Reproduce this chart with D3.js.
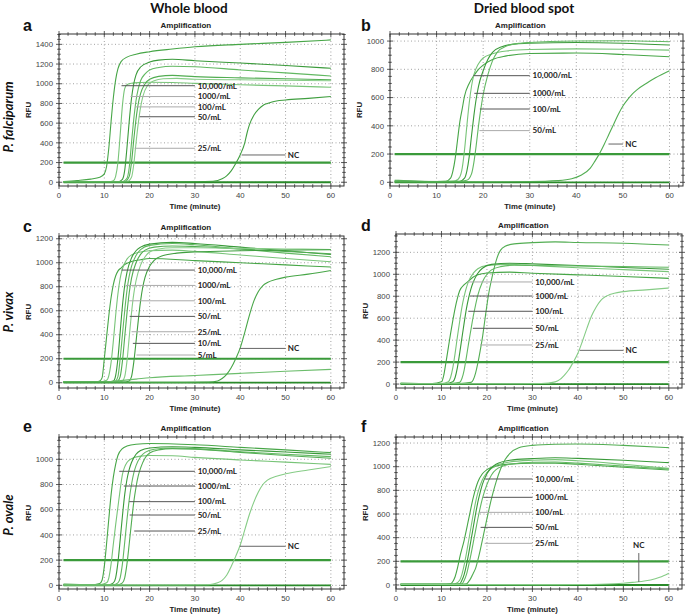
<!DOCTYPE html>
<html>
<head>
<meta charset="utf-8">
<script src="https://cdn.jsdelivr.net/npm/d3@7"></script>
<style>
  body { margin: 0; background: #fff; }
  svg { display: block; }
  .tick-label { font-family: "Liberation Sans", Arial, sans-serif; font-size: 7.8px; fill: #444; }
  .axis-title { font-family: "Liberation Sans", Arial, sans-serif; font-size: 7.8px; font-weight: bold; fill: #222; }
  .plot-title { font-family: "Liberation Sans", Arial, sans-serif; font-size: 8px; font-weight: bold; fill: #222; }
  .conc { font-family: Lato, "Open Sans", sans-serif; font-size: 8px; font-weight: bold; fill: #222; }
  .col-title { font-family: Lato, "Open Sans", sans-serif; font-size: 13.5px; font-weight: bold; fill: #111; }
  .row-title { font-family: Lato, "Open Sans", sans-serif; font-size: 13px; font-weight: bold; font-style: italic; fill: #111; }
  .letter { font-family: "Liberation Sans", Arial, sans-serif; font-size: 16px; font-weight: bold; fill: #111; }
</style>
</head>
<body>
<svg width="685" height="615"></svg>
<script>
// ---------------- data (RFU over time in minutes) ----------------
const xTicks = [0, 10, 20, 30, 40, 50, 60];
const threshold = 200;

// a: whole blood, P. falciparum
const curvesA = [
  [[1,8],[4,18],[7,32],[9,50],[10,85],[10.5,160],[11,350],[11.5,620],[12,860],[12.5,1040],[13,1150],[13.7,1225],[15,1270],[17,1300],[20,1325],[25,1352],[30,1375],[40,1400],[50,1420],[60,1445]],
  [[1,5],[11,5],[12,15],[12.5,60],[13,200],[13.5,480],[14,780],[14.5,950],[15,990],[16,1005],[18,1012],[20,1015],[25,1012],[30,1004],[40,990],[50,978],[60,964]],
  [[1,5],[13,5],[14,30],[14.5,120],[15,350],[15.5,620],[16,850],[16.5,1000],[17,1090],[18,1170],[20,1220],[22,1240],[25,1248],[30,1234],[40,1210],[50,1185],[60,1157]],
  [[1,5],[14,5],[15,40],[15.5,150],[16,400],[16.5,640],[17,830],[17.5,950],[18,1030],[19,1100],[20,1140],[22,1165],[25,1178],[30,1173],[40,1140],[50,1110],[60,1079]],
  [[1,5],[14.5,5],[15.5,60],[16,200],[16.5,430],[17,640],[17.5,800],[18,900],[19,1000],[20,1045],[22,1075],[25,1085],[30,1072],[40,1060],[50,1050],[60,1040]],
  [[1,5],[15,5],[16,50],[16.5,180],[17,400],[17.5,600],[18,760],[18.5,870],[19.5,980],[21,1030],[23,1050],[26,1055],[30,1045],[40,1040],[50,1035],[60,1031]]
];
const ncA = [[1,3],[20,3],[30,5],[34,10],[36,35],[37,65],[38,115],[39,190],[40,280],[41,400],[41.5,500],[42,580],[43,680],[44,740],[45,780],[46,800],[47,815],[48,825],[50,835],[55,852],[60,870]];
const labelsA = [
  {text: "10,000/mL", t: 13.8, v: 980, dark: true},
  {text: "1000/mL", t: 15.8, v: 870, dark: false},
  {text: "100/mL", t: 16.8, v: 765, dark: false},
  {text: "50/mL", t: 17.8, v: 665, dark: true},
  {text: "25/mL", t: 16.7, v: 345, dark: false}
];
const ncLabelA = {t: 40.3, v: 277};

// b: dried blood spot, P. falciparum
const curvesB = [
  [[1,15],[4,10],[8,5],[12,8],[13,30],[13.5,80],[14,170],[14.5,300],[15,430],[15.5,520],[16,610],[17,700],[18,755],[19,800],[20,830],[22,870],[25,895],[30,912],[40,915],[50,905],[60,889]],
  [[1,10],[10,5],[14,10],[15,40],[15.5,100],[16,230],[16.5,400],[17,560],[17.5,680],[18,760],[19,840],[20,880],[22,910],[25,930],[30,940],[40,945],[50,942],[60,936]],
  [[1,8],[12,5],[15,8],[16,30],[16.5,80],[17,180],[17.5,330],[18,470],[18.5,590],[19,680],[20,790],[21,870],[22,920],[24,960],[27,980],[30,985],[40,990],[50,985],[60,972]],
  [[1,5],[14,5],[16.5,15],[17.5,60],[18,140],[18.5,260],[19,400],[19.5,520],[20,620],[21,760],[22,860],[23,920],[25,965],[28,985],[30,990],[40,1000],[50,1002],[60,995]]
];
const ncB = [[1,5],[20,3],[30,5],[36,12],[39,25],[41,50],[43,100],[44,150],[45,205],[46,270],[47,340],[48,410],[49,480],[50,540],[51,585],[52,625],[53,655],[55,700],[57,740],[60,790]];
const labelsB = [
  {text: "10,000/mL", t: 17.9, v: 755, dark: true},
  {text: "1000/mL", t: 18.1, v: 630, dark: true},
  {text: "100/mL", t: 19.3, v: 519, dark: true},
  {text: "50/mL", t: 19.2, v: 366, dark: false}
];
const ncLabelB = {t: 46.9, v: 271};

// c: whole blood, P. vivax
const curvesC = [
  [[1,10],[8,5],[9,15],[9.5,40],[10,200],[10.5,380],[11,560],[11.5,710],[12,820],[12.5,890],[13,930],[13.8,960],[14.5,985],[16,1010],[18,1025],[20,1035],[30,1018],[40,1000],[50,982],[60,964]],
  [[1,5],[9,5],[10.5,20],[11,60],[11.5,170],[12,350],[12.5,560],[13,740],[13.5,870],[14,950],[15,1030],[16,1065],[18,1090],[20,1100],[25,1105],[30,1095],[40,1065],[50,1035],[60,1008]],
  [[1,5],[10,5],[12,15],[12.5,60],[13,200],[13.5,420],[14,640],[14.5,810],[15,920],[16,1040],[17,1100],[18,1130],[20,1155],[25,1170],[30,1160],[40,1130],[50,1100],[60,1069]],
  [[1,5],[11,5],[12.5,15],[13,50],[13.5,200],[14,400],[14.5,600],[15,770],[15.5,890],[16,970],[17,1060],[18,1110],[20,1145],[25,1160],[30,1150],[40,1115],[50,1080],[60,1050]],
  [[1,5],[12,5],[13,15],[13.5,50],[14,180],[14.5,380],[15,580],[15.5,750],[16,870],[17,1000],[18,1070],[19,1105],[21,1130],[25,1140],[30,1135],[40,1115],[50,1095],[60,1075]],
  [[1,5],[13,5],[14,15],[14.5,50],[15,180],[15.5,380],[16,580],[16.5,740],[17,850],[18,980],[19,1050],[20,1090],[22,1115],[25,1125],[30,1125],[40,1120],[50,1115],[60,1111]],
  [[1,5],[14,5],[15.5,15],[16,50],[16.5,170],[17,340],[17.5,520],[18,680],[18.5,800],[19,880],[20,970],[21,1020],[23,1060],[26,1080],[30,1090],[40,1100],[50,1105],[60,1108]],
  [[1,5],[10,5],[13,15],[17,30],[20,42],[30,60],[40,78],[50,95],[60,111]]
];
const ncC = [[1,3],[25,3],[33,5],[35,15],[36,35],[37,70],[38,125],[39,200],[40,290],[41,420],[42,560],[43,680],[44,760],[45,810],[46,835],[48,862],[50,880],[55,905],[60,935]];
const labelsC = [
  {text: "10,000/mL", t: 13.8, v: 939, dark: true},
  {text: "1000/mL", t: 14.7, v: 811, dark: false},
  {text: "100/mL", t: 15.5, v: 683, dark: false},
  {text: "50/mL", t: 15.6, v: 553, dark: true},
  {text: "25/mL", t: 16, v: 425, dark: false},
  {text: "10/mL", t: 16.3, v: 328, dark: true},
  {text: "5/mL", t: 17.1, v: 231, dark: false}
];
const ncLabelC = {t: 39.9, v: 286};

// d: dried blood spot, P. vivax
const curvesD = [
  [[1,10],[8,5],[10,20],[10.5,80],[11,200],[11.5,330],[12,460],[12.5,580],[13,690],[13.5,780],[14,850],[15,905],[16,940],[17,975],[18,995],[20,1012],[25,1020],[30,1010],[40,995],[50,980],[60,963]],
  [[1,5],[10,5],[11.5,20],[12,60],[12.5,150],[13,280],[13.5,430],[14,570],[14.5,700],[15,800],[15.5,880],[16,940],[17,1010],[18,1050],[20,1080],[25,1090],[30,1080],[40,1060],[50,1042],[60,1024]],
  [[1,5],[11,5],[12.5,20],[13,60],[13.5,150],[14,280],[14.5,420],[15,560],[15.5,690],[16,790],[16.5,870],[17,930],[18,1010],[19,1055],[21,1090],[25,1100],[30,1095],[40,1080],[50,1062],[60,1046]],
  [[1,5],[12,5],[14,15],[14.5,50],[15,130],[15.5,250],[16,380],[16.5,500],[17,620],[17.5,720],[18,810],[19,930],[20,1000],[21,1040],[23,1070],[26,1082],[30,1080],[40,1075],[50,1070],[60,1064]],
  [[1,5],[14,5],[16.5,15],[17,40],[17.5,100],[18,190],[18.5,300],[19,420],[19.5,570],[20,720],[20.5,850],[21,950],[22,1120],[22.5,1180],[23,1220],[24,1255],[26,1277],[30,1288],[35,1295],[40,1290],[50,1283],[60,1267]]
];
const ncD = [[1,3],[25,3],[32,5],[35,20],[36,40],[37,80],[38,130],[39,200],[40,280],[41,390],[42,510],[43,620],[44,700],[45,760],[46,795],[47,815],[48,828],[50,842],[55,858],[60,875]];
const labelsD = [
  {text: "10,000/mL", t: 15.8, v: 930, dark: false},
  {text: "1000/mL", t: 16.3, v: 802, dark: true},
  {text: "100/mL", t: 15.9, v: 663, dark: true},
  {text: "50/mL", t: 16.9, v: 508, dark: true},
  {text: "25/mL", t: 18.5, v: 356, dark: false}
];
const ncLabelD = {t: 40.4, v: 307};

// e: whole blood, P. ovale
const curvesE = [
  [[1,10],[7,5],[9,15],[9.5,40],[10,150],[10.5,330],[11,530],[11.5,720],[12,860],[12.5,960],[13,1030],[14,1085],[15,1105],[17,1120],[20,1125],[30,1115],[40,1095],[50,1075],[60,1053]],
  [[1,5],[9,5],[10.5,20],[11,60],[11.5,170],[12,330],[12.5,480],[13,620],[13.5,760],[14,880],[14.5,940],[15,975],[16,1005],[18,1025],[20,1030],[25,1028],[30,1015],[40,995],[50,978],[60,960]],
  [[1,5],[11,5],[12,20],[12.5,60],[13,180],[13.5,360],[14,550],[14.5,720],[15,840],[15.5,920],[16,975],[17,1040],[18,1070],[20,1090],[25,1100],[30,1095],[40,1075],[50,1058],[60,1040]],
  [[1,5],[12,5],[13,20],[13.5,60],[14,170],[14.5,340],[15,520],[15.5,680],[16,800],[16.5,890],[17,950],[18,1020],[19,1055],[21,1080],[25,1090],[30,1085],[40,1060],[50,1040],[60,1021]],
  [[1,5],[13,5],[14,20],[14.5,60],[15,170],[15.5,330],[16,500],[16.5,660],[17,780],[17.5,870],[18,930],[19,1010],[20,1050],[22,1075],[25,1085],[30,1080],[40,1055],[50,1030],[60,1008]]
];
const ncE = [[1,3],[25,3],[33,5],[35,20],[36,40],[37,80],[38,150],[39,230],[40,320],[41,440],[42,560],[43,660],[44,740],[45,800],[46,835],[48,865],[50,885],[55,915],[60,942]];
const labelsE = [
  {text: "10,000/mL", t: 13.3, v: 905, dark: true},
  {text: "1000/mL", t: 14.3, v: 788, dark: true},
  {text: "100/mL", t: 15.5, v: 664, dark: true},
  {text: "50/mL", t: 15.6, v: 558, dark: true},
  {text: "25/mL", t: 16.6, v: 431, dark: true}
];
const ncLabelE = {t: 39.9, v: 310};

// f: dried blood spot, P. ovale
const curvesF = [
  [[1,5],[10,5],[12,10],[12.5,30],[13,70],[13.5,140],[14,230],[15,380],[16,560],[17,740],[18,870],[19,940],[20,975],[22,1005],[25,1022],[30,1030],[35,1030],[40,1020],[50,995],[60,972]],
  [[1,5],[11,5],[13,10],[14,40],[14.5,90],[15,170],[15.5,270],[16,380],[16.5,490],[17,600],[17.5,700],[18,780],[19,890],[20,950],[22,1010],[25,1040],[30,1055],[35,1060],[40,1050],[50,1020],[60,986]],
  [[1,5],[12,5],[14,10],[14.5,40],[15,90],[15.5,170],[16,270],[16.5,380],[17,490],[17.5,600],[18,700],[18.5,780],[19,850],[20,940],[22,1020],[25,1055],[30,1068],[35,1075],[40,1070],[50,1055],[60,1034]],
  [[1,5],[12,5],[14.5,10],[15,40],[15.5,90],[16,170],[16.5,260],[17,360],[17.5,460],[18,560],[18.5,650],[19,730],[20,850],[21,930],[22,975],[25,1020],[30,1038],[35,1040],[40,1030],[50,1005],[60,980]],
  [[1,5],[13,5],[15.5,10],[16,30],[16.5,60],[17,100],[17.5,140],[18,210],[18.5,290],[19,380],[19.5,470],[20,560],[21,730],[22,870],[23,980],[24,1060],[25,1110],[27,1160],[30,1180],[35,1190],[40,1192],[50,1180],[60,1161]]
];
const ncF = [[1,5],[20,3],[30,3],[40,4],[45,6],[48,10],[50,15],[52,22],[54,30],[56,42],[58,65],[60,100]];
const labelsF = [
  {text: "10,000/mL", t: 19.6, v: 896, dark: true},
  {text: "1000/mL", t: 19.2, v: 741, dark: true},
  {text: "100/mL", t: 18.4, v: 614, dark: false},
  {text: "50/mL", t: 18.6, v: 487, dark: true},
  {text: "25/mL", t: 19.5, v: 352, dark: false}
];
const ncLabelF = {t: 53.4, v: 270, vertical: true};

// ---------------- layout ----------------
const svg = d3.select("svg");
const curveColors = ["#47a647", "#78c478", "#3a9a3a", "#62b862", "#52ad52", "#86cc86", "#409f40", "#6cbd6c"];
const xMax = 62.9;
const labelEnd = 30, labelTextT = 30.6, ncEnd = 50, ncTextT = 50.5;

const panels = [
  {id: "a", box: [59, 34, 344, 186], yDom: [-38, 1505], yTop: 1400, curves: curvesA, nc: ncA, labels: labelsA, ncLabel: ncLabelA, letter: [23, 31]},
  {id: "b", box: [390, 34, 683, 186], yDom: [-26, 1050], yTop: 1000, curves: curvesB, nc: ncB, labels: labelsB, ncLabel: ncLabelB, letter: [361, 31]},
  {id: "c", box: [59, 236, 344, 388], yDom: [-44, 1223], yTop: 1200, curves: curvesC, nc: ncC, labels: labelsC, ncLabel: ncLabelC, letter: [23, 232]},
  {id: "d", box: [396, 234, 682, 388], yDom: [-36, 1367], yTop: 1200, curves: curvesD, nc: ncD, labels: labelsD, ncLabel: ncLabelD, letter: [361, 231]},
  {id: "e", box: [59, 437, 344, 589], yDom: [-29, 1177], yTop: 1000, curves: curvesE, nc: ncE, labels: labelsE, ncLabel: ncLabelE, letter: [23, 432]},
  {id: "f", box: [396, 437, 682, 589], yDom: [-34, 1251], yTop: 1200, curves: curvesF, nc: ncF, labels: labelsF, ncLabel: ncLabelF, letter: [361, 432]}
];

panels.forEach(drawPanel);

// column / row titles
svg.append("text").attr("class", "col-title").attr("x", 189).attr("y", 13).attr("text-anchor", "middle").text("Whole blood");
svg.append("text").attr("class", "col-title").attr("x", 524).attr("y", 13).attr("text-anchor", "middle").text("Dried blood spot");
[["P. falciparum", 117], ["P. vivax", 312], ["P. ovale", 515]].forEach(([name, cy]) => {
  svg.append("text").attr("class", "row-title")
    .attr("transform", `translate(13,${cy}) rotate(-90)`)
    .attr("text-anchor", "middle").text(name);
});

function drawPanel(p) {
  const [left, top, right, bottom] = p.box;
  const x = d3.scaleLinear().domain([0, xMax]).range([left, right]);
  const y = d3.scaleLinear().domain(p.yDom).range([bottom, top]);
  const g = svg.append("g");
  const yMajor = d3.range(0, p.yTop + 1, 200);
  const yMinor = d3.range(0, p.yDom[1], 50).filter(v => v % 200 !== 0);
  const xMinor = d3.range(0, xMax, 2).filter(v => v % 10 !== 0);

  // dotted grid
  g.selectAll(".gx").data(xTicks).join("line")
    .attr("x1", d => x(d)).attr("x2", d => x(d)).attr("y1", top).attr("y2", bottom)
    .attr("stroke", "#8a8a8a").attr("stroke-width", 0.8).attr("stroke-dasharray", "1,2.5");
  g.selectAll(".gy").data(yMajor).join("line")
    .attr("x1", left).attr("x2", right).attr("y1", d => y(d)).attr("y2", d => y(d))
    .attr("stroke", "#8a8a8a").attr("stroke-width", 0.8).attr("stroke-dasharray", "1,2.5");

  const line = d3.line().x(d => x(d[0])).y(d => y(d[1])).curve(d3.curveMonotoneX);

  // threshold and baseline
  g.append("line").attr("x1", x(1)).attr("x2", x(60)).attr("y1", y(threshold)).attr("y2", y(threshold))
    .attr("stroke", "#3a9a3a").attr("stroke-width", 2.2);
  g.append("line").attr("x1", x(1)).attr("x2", x(60)).attr("y1", y(0)).attr("y2", y(0))
    .attr("stroke", "#2a8a2a").attr("stroke-width", 1.8);

  g.selectAll(".curve").data(p.curves.concat([p.nc])).join("path")
    .attr("d", line).attr("fill", "none")
    .attr("stroke", (d, i) => curveColors[i % curveColors.length]).attr("stroke-width", 1.1);

  // concentration labels
  p.labels.forEach(l => {
    g.append("line").attr("x1", x(l.t)).attr("x2", x(labelEnd)).attr("y1", y(l.v)).attr("y2", y(l.v))
      .attr("stroke", l.dark ? "#555" : "#aaa").attr("stroke-width", 1);
    g.append("text").attr("class", "conc").attr("x", x(labelTextT)).attr("y", y(l.v)).attr("dy", "0.35em").text(l.text);
  });
  const n = p.ncLabel;
  if (n.vertical) {
    g.append("line").attr("x1", x(n.t)).attr("x2", x(n.t)).attr("y1", y(n.v)).attr("y2", y(25))
      .attr("stroke", "#666").attr("stroke-width", 1);
    g.append("text").attr("class", "conc").attr("x", x(n.t)).attr("y", y(n.v) - 5).attr("text-anchor", "middle").text("NC");
  } else {
    g.append("line").attr("x1", x(n.t)).attr("x2", x(ncEnd)).attr("y1", y(n.v)).attr("y2", y(n.v))
      .attr("stroke", "#666").attr("stroke-width", 1);
    g.append("text").attr("class", "conc").attr("x", x(ncTextT)).attr("y", y(n.v)).attr("dy", "0.35em").text("NC");
  }

  // frame
  g.append("rect").attr("x", left).attr("y", top).attr("width", right - left).attr("height", bottom - top)
    .attr("fill", "none").attr("stroke", "#333").attr("stroke-width", 1);

  // ticks crossing all four sides
  const tk = (data, len, horiz) => {
    data.forEach(v => {
      if (horiz) {
        [bottom, top].forEach(yy => g.append("line").attr("x1", x(v)).attr("x2", x(v)).attr("y1", yy - len).attr("y2", yy + len).attr("stroke", "#333").attr("stroke-width", 0.8));
      } else {
        [left, right].forEach(xx => g.append("line").attr("x1", xx - len).attr("x2", xx + len).attr("y1", y(v)).attr("y2", y(v)).attr("stroke", "#333").attr("stroke-width", 0.8));
      }
    });
  };
  tk(xTicks, 3, true); tk(xMinor, 1.8, true);
  tk(yMajor, 3, false); tk(yMinor, 1.8, false);

  g.selectAll(".xl").data(xTicks).join("text").attr("class", "tick-label")
    .attr("x", d => x(d)).attr("y", bottom + 12).attr("text-anchor", "middle").text(d => d);
  g.selectAll(".yl").data(yMajor).join("text").attr("class", "tick-label")
    .attr("x", left - 6).attr("y", d => y(d)).attr("dy", "0.35em").attr("text-anchor", "end").text(d => d);

  g.append("text").attr("class", "axis-title").attr("x", x(30)).attr("y", bottom + 23).attr("text-anchor", "middle").text("Time (minute)");
  g.append("text").attr("class", "axis-title")
    .attr("transform", `translate(${left - 31},${(top + bottom) / 2}) rotate(-90)`)
    .attr("dy", "0.35em").attr("text-anchor", "middle").text("RFU");
  g.append("text").attr("class", "plot-title").attr("x", left + 0.445 * (right - left)).attr("y", top - 6)
    .attr("text-anchor", "middle").text("Amplification");
  g.append("text").attr("class", "letter").attr("x", p.letter[0]).attr("y", p.letter[1]).text(p.id);
}
</script>
</body>
</html>
